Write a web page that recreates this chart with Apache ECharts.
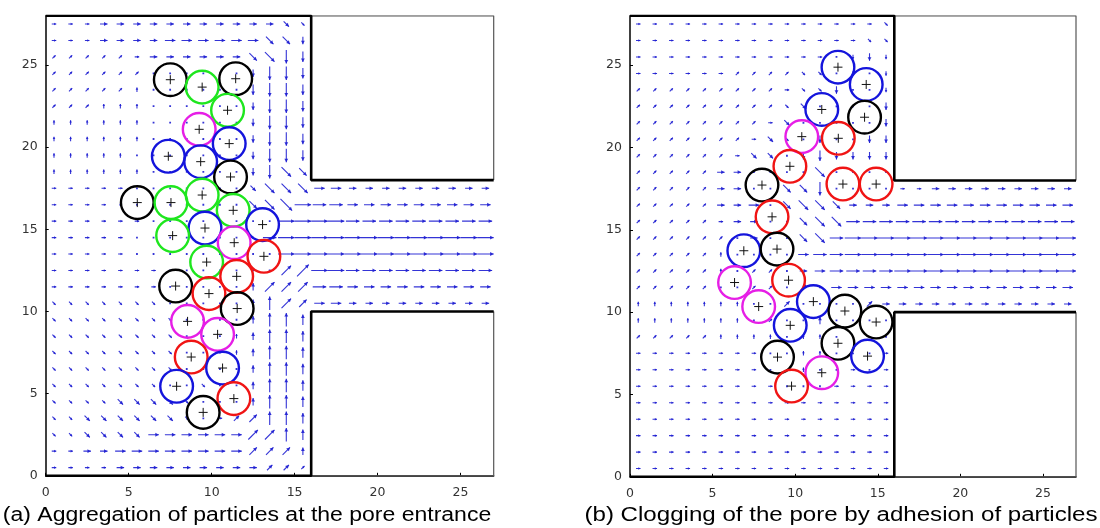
<!DOCTYPE html>
<html><head><meta charset="utf-8">
<script src="https://cdn.jsdelivr.net/npm/echarts@6/dist/echarts.min.js"></script>
<style>html,body{margin:0;padding:0;background:#fff}#c{width:1100px;height:528px}</style>
</head><body><div id="c"></div>
<script>
// ---------- data ----------
const xTicks = [0, 5, 10, 15, 20, 25];
const yTicks = [0, 5, 10, 15, 20, 25];
const captions = ["(a) Aggregation of particles at the pore entrance", "(b) Clogging of the pore by adhesion of particles"];
const domainX = 27, domainY = 28;
const poreX = 16, poreY0 = 10, poreY1 = 18;
const particleRadius = 0.99;

// panel (a) particles
const aPartX = [7.51,9.43,11.45,10.96,9.25,11.06,7.39,9.34,11.14,5.52,7.55,9.43,11.30,13.07,9.60,7.65,11.36,13.15,9.70,11.51,7.83,9.84,11.54,8.55,10.36,8.77,10.66,7.89,11.34,9.49];
const aPartY = [24.11,23.66,24.17,22.25,21.09,20.22,19.45,19.12,18.19,16.63,16.63,17.09,16.16,15.29,15.08,14.62,14.19,13.36,13.01,12.14,11.55,11.09,10.18,9.40,8.61,7.23,6.56,5.45,4.70,3.86];
const aPartC = ['k','g','k','g','m','b','b','b','k','k','g','g','g','b','b','g','m','r','g','r','k','r','k','m','m','r','b','b','r','k'];

// panel (b) particles
const bPartX = [12.59,14.30,11.61,14.20,10.40,12.61,9.68,7.99,12.89,14.90,8.60,6.89,8.90,6.33,9.60,7.79,11.10,13.01,14.90,9.70,12.59,14.38,8.93,11.61,9.78];
const bPartY = [24.88,23.83,22.31,21.84,20.66,20.56,18.86,17.72,17.78,17.78,15.79,13.73,13.83,11.80,11.94,10.34,10.64,10.07,9.40,9.20,8.11,7.33,7.27,6.32,5.51];
const bPartC = ['b','b','b','k','m','r','r','k','r','r','r','b','k','m','r','m','b','k','k','b','k','b','k','m','r'];

// velocity field on a 1-unit grid.
// direction: numpad digit (6=E 9=NE 8=N 7=NW 4=W 1=SW 2=S 3=SE 5=still); magnitude 0..5
// left chamber rows from y=27.5 down to y=0.5, columns x=0.5..15.5
const aDir = [
"6666666666666633","6666666666666332","9999966666663322","9999995555552222",
"9999985555552222","9998885555552222","8888885555552222","8888885555552222",
"8888885555552222","8888885555552233","6666655555553333","6666555555553336",
"6666665555555566","6666655555555666","6666655555555566","6666666555555599",
"6666666555558999","3333333555558899","3333333355558888","3333333355588888",
"3333333355588888","3333333355558888","3333333553558888","3333333335558888",
"3333333335699888","3333336666669988","6666666666669998","6666666666666999"];
const aMag = [
"1112222222222221","1112222333333332","1111112222223443","1111110000002443",
"1111110000003443","1111110000002443","1111111000002443","1111110000002443",
"1111100000002443","1111110000002443","1111100000002444","1111000000003455",
"1111110000000055","1111100000000455","1111100000000055","1111111000000045",
"1111111000002444","1111111000002443","1111111100002443","1111111100012443",
"1111111100012443","1111111100002443","1111111001002443","1111222210002443",
"1122222210123443","1122223333334443","1122333333333332","1111222222222221"];
// channel rows from y=17.5 down to y=10.5, columns x=16.5..26.5
const aChDir = ["66666666666","66666666666","66666666666","66666666666","66666666666","66666666666","66666666666","66666666666"];
const aChMag = ["33222222222","44333333333","55444444444","55555555555","55555555555","55444444444","44333333333","33222222222"];

const bDir = [
"6666666666666663","6666666666666633","6666666666665222","6666669999335252",
"9999999996332552","9999999993355552","9999999963555552","9999999633525522",
"9999996335222222","9999966555535555","9999966553325555","9999966653333666",
"9999966655333666","9999995655336666","9999985555666666","9999985995666666",
"9999955995956666","8888888559555596","8888888595585555","9999988885885555",
"6666666655885556","6666666655855656","6666666665556666","6666666666666666",
"6666666666666666","6666666666666666","6666666666666666","6666666666666666"];
const bMag = [
"1111111111111111","1111111111111111","1111111111110121","1111111111110101",
"1111111111112001","1111111111200002","1111111112000002","1111111121020022",
"1111111220232222","1111122000040000","1111122003340000","1111122303443222",
"1111112200344444","1111110200344555","1111110000344555","1111110110234444",
"1111100110203333","1111111002000022","1111111010020000","1111111110110000",
"1111111100110001","1111111100100101","1111111110001111","1111111111111111",
"1111111111111111","1111111111111111","1111111111111111","1111111111111111"];
const bChDir = ["66666666666","66666666666","66666666666","66666666666","66666666666","66666666666","66666666666","66666666666"];
const bChMag = ["11222222222","33333333333","44444444444","55555555555","55555555555","55555555555","33333333333","22222222222"];

// ---------- styling ----------
const COLORS = {k:'#000000', g:'#1ee61e', m:'#e61ee6', b:'#1414dc', r:'#f01414'};
const ARROW = 'rgba(30,30,210,0.9)';
const LEN = [0, 4.5, 7.5, 10.5, 13.5, 16.5];
const D = 0.7071;
const DIRS = {6:[1,0],9:[D,D],8:[0,1],7:[-D,D],4:[-1,0],1:[-D,-D],2:[0,-1],3:[D,-D]};

function buildField(dirRows, magRows, chDir, chMag){
  const out = [];
  for (let r = 0; r < dirRows.length; r++){
    for (let c = 0; c < dirRows[r].length; c++){
      out.push([c + 0.5, domainY - 0.5 - r, +dirRows[r][c], +magRows[r][c]]);
    }
  }
  for (let r = 0; r < chDir.length; r++){
    for (let c = 0; c < chDir[r].length; c++){
      out.push([poreX + 0.5 + c, poreY1 - 0.5 - r, +chDir[r][c], +chMag[r][c]]);
    }
  }
  return out;
}

function arrowItem(params, api){
  const d = api.value(2), m = api.value(3);
  const p = api.coord([api.value(0), api.value(1)]);
  if (m === 0 || d === 5){
    return {type:'rect', shape:{x:p[0]-0.9, y:p[1]-0.9, width:1.8, height:1.8}, style:{fill:ARROW}};
  }
  const v = DIRS[d], L = LEN[m];
  const ux = v[0], uy = -v[1];
  const x0 = p[0]-ux*L/2, y0 = p[1]-uy*L/2, x1 = p[0]+ux*L/2, y1 = p[1]+uy*L/2;
  const ch = [{type:'line', shape:{x1:x0,y1:y0,x2:x1,y2:y1}, style:{stroke:ARROW, lineWidth:1.1}}];
  const h = m >= 2 ? 3.5 : 2.2, w = m >= 2 ? 1.9 : 1.3;
  ch.push({type:'polygon', shape:{points:[[x1,y1],[x1-ux*h-uy*w, y1-uy*h+ux*w],[x1-ux*h+uy*w, y1-uy*h-ux*w]]}, style:{fill:ARROW}});
  return {type:'group', children:ch};
}

function particleRenderer(colors){
  return function(params, api){
    const p = api.coord([api.value(0), api.value(1)]);
    const s = api.size([particleRadius, particleRadius]);
    const r = (s[0] + s[1]) / 2;
    const col = COLORS[colors[params.dataIndex]];
    return {type:'group', children:[
      {type:'circle', shape:{cx:p[0], cy:p[1], r:r}, style:{fill:'none', stroke:col, lineWidth:2.4}},
      {type:'line', shape:{x1:p[0]-4.5, y1:p[1], x2:p[0]+4.5, y2:p[1]}, style:{stroke:'#111', lineWidth:1}},
      {type:'line', shape:{x1:p[0], y1:p[1]-4.5, x2:p[0], y2:p[1]+4.5}, style:{stroke:'#111', lineWidth:1}}
    ]};
  };
}

const wallUpper = [[0,domainY],[poreX,domainY],[poreX,poreY1],[domainX,poreY1]];
const wallLower = [[0,0],[poreX,0],[poreX,poreY0],[domainX,poreY0]];
const frameUpper = [[poreX,domainY],[domainX,domainY],[domainX,poreY1]];
const frameLower = [[domainX,poreY0],[domainX,0],[poreX,0]];

const grids = [
  {left:45.7, top:15.8, width:448, height:460},
  {left:630, top:15.8, width:446, height:461}
];
function xAx(i){ return {type:'value', gridIndex:i, min:0, max:domainX,
  axisLine:{show:true, onZero:false, lineStyle:{color:'#000', width:1.5}},
  axisTick:{show:true, inside:true, length:3, customValues:xTicks, lineStyle:{color:'#000'}},
  axisLabel:{customValues:xTicks, color:'#333', fontSize:12.5, fontFamily:'DejaVu Sans', margin:10},
  splitLine:{show:false}}; }
function yAx(i){ return {type:'value', gridIndex:i, min:0, max:domainY,
  axisLine:{show:true, onZero:false, lineStyle:{color:'#000', width:1.5}},
  axisTick:{show:true, inside:true, length:3, customValues:yTicks, lineStyle:{color:'#000'}},
  axisLabel:{customValues:yTicks, color:'#333', fontSize:12.5, fontFamily:'DejaVu Sans', margin:8},
  splitLine:{show:false}}; }

const series = [];
const panels = [
  {field: buildField(aDir, aMag, aChDir, aChMag), px: aPartX, py: aPartY, pc: aPartC},
  {field: buildField(bDir, bMag, bChDir, bChMag), px: bPartX, py: bPartY, pc: bPartC}
];
panels.forEach((pn, i) => {
  series.push({type:'custom', xAxisIndex:i, yAxisIndex:i, renderItem:arrowItem, data:pn.field, clip:true, z:2, silent:true});
  series.push({type:'custom', xAxisIndex:i, yAxisIndex:i, renderItem:particleRenderer(pn.pc), data:pn.px.map((x,k)=>[x, pn.py[k]]), z:3, silent:true});
  [frameUpper, frameLower].forEach(f => series.push({type:'line', xAxisIndex:i, yAxisIndex:i, data:f, symbol:'none', lineStyle:{color:'#555', width:1.2}, z:4, silent:true, animation:false}));
  [wallUpper, wallLower].forEach(f => series.push({type:'line', xAxisIndex:i, yAxisIndex:i, data:f, symbol:'none', lineStyle:{color:'#000', width:2.6}, z:5, silent:true, animation:false}));
});

const chart = echarts.init(document.getElementById('c'), null, {renderer:'canvas'});
chart.setOption({
  animation:false,
  backgroundColor:'#fff',
  grid: grids,
  xAxis: [xAx(0), xAx(1)],
  yAxis: [yAx(0), yAx(1)],
  series: series,
  graphic: [
    {type:'text', x:247, y:515, scaleX:1.15, style:{text:captions[0], textAlign:'center', textVerticalAlign:'middle', font:'20px "Liberation Sans", Arial, sans-serif', fill:'#000'}},
    {type:'text', x:841, y:515, scaleX:1.205, style:{text:captions[1], textAlign:'center', textVerticalAlign:'middle', font:'20px "Liberation Sans", Arial, sans-serif', fill:'#000'}}
  ]
});
</script>
</body></html>
